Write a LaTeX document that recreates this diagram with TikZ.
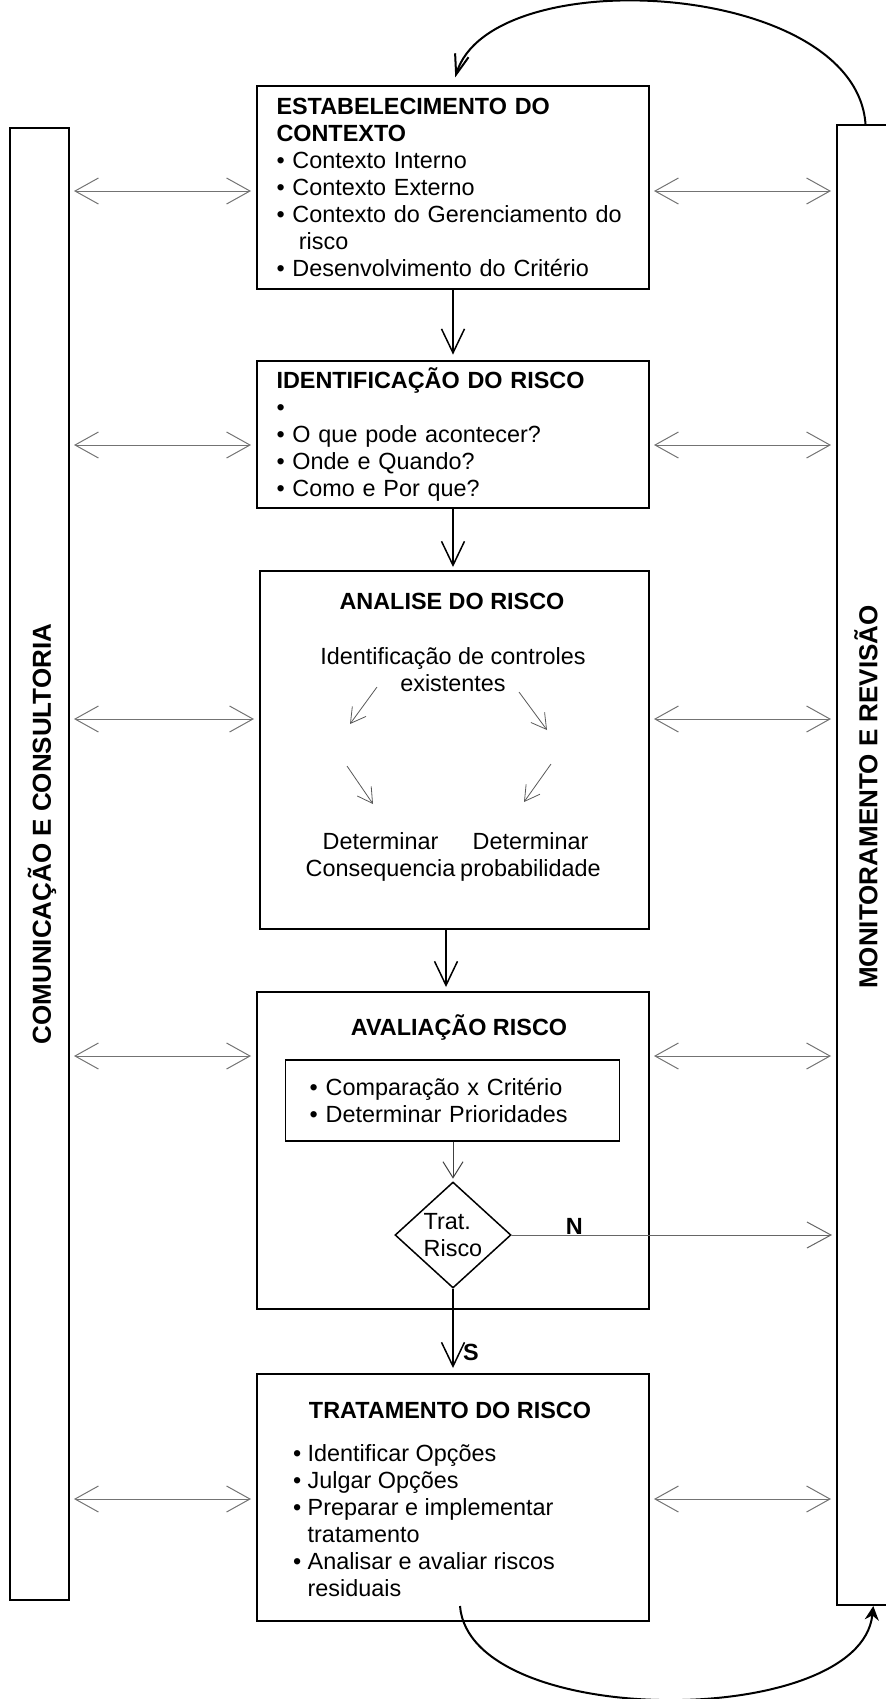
\documentclass[tikz,border=0pt]{standalone}
\usepackage{fontspec}
\setmainfont{Liberation Sans}
\usetikzlibrary{arrows.meta,shapes.geometric}

\tikzset{
  etapa/.style={draw, line width=1pt, minimum width=196pt, inner sep=0pt},
  lista/.style={align=left, text width=176.5pt, inner xsep=9.75pt},
  barra/.style={draw, line width=1pt, inner sep=0pt},
  titulo/.style={font=\bfseries\fontsize{11.7}{13.5}\selectfont, inner sep=0pt},
  lateral/.style={rotate=90, font=\bfseries\fontsize{13}{15}\selectfont, inner sep=0pt},
  fluxo/.style={-{Straight Barb[length=12pt,width=11.5pt]}, line width=0.75pt},
  troca/.style={{Straight Barb[length=11.7pt,width=13pt]}-{Straight Barb[length=11.7pt,width=13pt]},
    draw=black!55, line width=0.5pt, shorten <=2pt, shorten >=2.5pt},
  setinha/.style={-{Straight Barb[length=7.4pt,width=8.5pt]}, draw=black!65, line width=0.4pt},
}

\begin{document}
\begin{tikzpicture}[x=0.5pt, y=-0.5pt, font=\fontsize{11.7}{13.5}\selectfont]
\useasboundingbox (0,0) rectangle (885,1699);

% side bars
\node[barra, minimum width=29.5pt, minimum height=736pt] (comm) at (39.5,864) {};
\node[barra, minimum width=28.5pt, minimum height=740pt] (mon) at (865.5,865) {};
\node[lateral] (commtxt) at (42,834) {COMUNICAÇÃO E CONSULTORIA};
\node[lateral] (montxt) at (866,797) {MONITORAMENTO E REVISÃO};

% process steps
\node[etapa, lista, minimum height=101.5pt] (ctx) at (453,187.5)
  {\textbf{ESTABELECIMENTO DO}\\ \textbf{CONTEXTO}\\
   \textbullet\ Contexto Interno\\ \textbullet\ Contexto Externo\\
   \textbullet\ Contexto do Gerenciamento do\\ \hspace*{11.2pt}risco\\
   \textbullet\ Desenvolvimento do Critério};
\node[etapa, lista, minimum height=73.7pt] (ident) at (453,434.3)
  {\textbf{IDENTIFICAÇÃO DO RISCO}\\ \textbullet\\
   \textbullet\ O que pode acontecer?\\ \textbullet\ Onde e Quando?\\
   \textbullet\ Como e Por que?};

\node[etapa, minimum width=194.5pt, minimum height=179pt] (anal) at (454.5,750) {};
\node[titulo] (analtit) at (452,601) {ANALISE DO RISCO};
\node[align=center, inner sep=0pt] (ctrl) at (453,669.5) {Identificação de controles\\existentes};
\node[align=center, inner sep=0pt] (detc) at (380.5,857) {Determinar\\Consequencia};
\node[align=center, inner sep=0pt] (detp) at (530.5,857) {Determinar\\probabilidade};
\foreach \n/\p in {a1/{377,687}, b1/{350,724}, a2/{519,692}, b2/{547,730},
                   a3/{347,766}, b3/{373,804}, a4/{551,764}, b4/{524,802}}
  \coordinate (\n) at (\p);
\foreach \i in {1,...,4}
  \draw[setinha] (a\i) -- (b\i);

\node[etapa, minimum height=158.5pt] (aval) at (453,1150.5) {};
\node[titulo] (avaltit) at (459,1027) {AVALIAÇÃO RISCO};
\node[draw, line width=0.75pt, minimum width=167pt, minimum height=40.5pt, text width=143pt,
      inner xsep=12pt, inner ysep=0pt, align=left] (crit) at (452.7,1100.4)
  {\textbullet\ Comparação x Critério\\ \textbullet\ Determinar Prioridades};
\node[draw, diamond, line width=0.75pt, inner sep=0pt, minimum width=58pt, minimum height=53pt,
      align=left] (dec) at (453,1235) {Trat.\\Risco};
\node[titulo] (nlbl) at (574.4,1226) {N};
\node[titulo] (slbl) at (471,1352) {S};

\node[etapa, minimum height=123.5pt] (trat) at (453,1497.5) {};
\node[titulo] (trattit) at (450,1410) {TRATAMENTO DO RISCO};
\node[align=left, inner sep=0pt, anchor=west] (tratlst) at (292.6,1520.7)
  {\textbullet\ Identificar Opções\\ \textbullet\ Julgar Opções\\
   \textbullet\ Preparar e implementar\\ \phantom{\textbullet\ }tratamento\\
   \textbullet\ Analisar e avaliar riscos\\ \phantom{\textbullet\ }residuais};

% main flow
\draw[fluxo, shorten >=2.5pt] (ctx.south) -- (ident.north);
\draw[fluxo, shorten >=1.5pt] (ident.south) -- (ident.south |- anal.north);
\draw[fluxo, shorten >=2pt] ([xshift=-4.25pt]anal.south) -- ([xshift=-4.25pt]anal.south |- aval.north);
\draw[-{Straight Barb[length=8pt,width=10pt]}, draw=black!75, line width=0.5pt, shorten >=1.3pt]
  (crit.south -| dec.north) -- (dec.north);
\draw[fluxo, shorten >=2.5pt] (dec.south) -- (trat.north);
\draw[-{Straight Barb[length=12pt,width=13pt]}, draw=black!60, line width=0.5pt, shorten >=2pt]
  (dec.east) -- (dec.east -| mon.west);

% exchange with the side bars
\foreach \b/\y in {ctx/191, ident/445, anal/719, aval/1056, trat/1499} {
  \draw[troca] (comm.east |- 0,\y) -- (\b.west |- 0,\y);
  \draw[troca] (\b.east |- 0,\y) -- (mon.west |- 0,\y);
}

% feedback loops
\draw[-{Straight Barb[length=10pt,width=7pt]}, line width=1pt, shorten >=4pt]
  (mon.north) .. controls (855,-20) and (490,-40) .. (ctx.north);
\coordinate (loopstart) at ([xshift=3.5pt,yshift=8pt]trat.south);
\draw[-{Stealth[length=7pt,width=7pt]}, line width=1pt]
  (loopstart) .. controls (470,1730) and (860,1730) .. ([xshift=3.9pt]mon.south);
\end{tikzpicture}
\end{document}
